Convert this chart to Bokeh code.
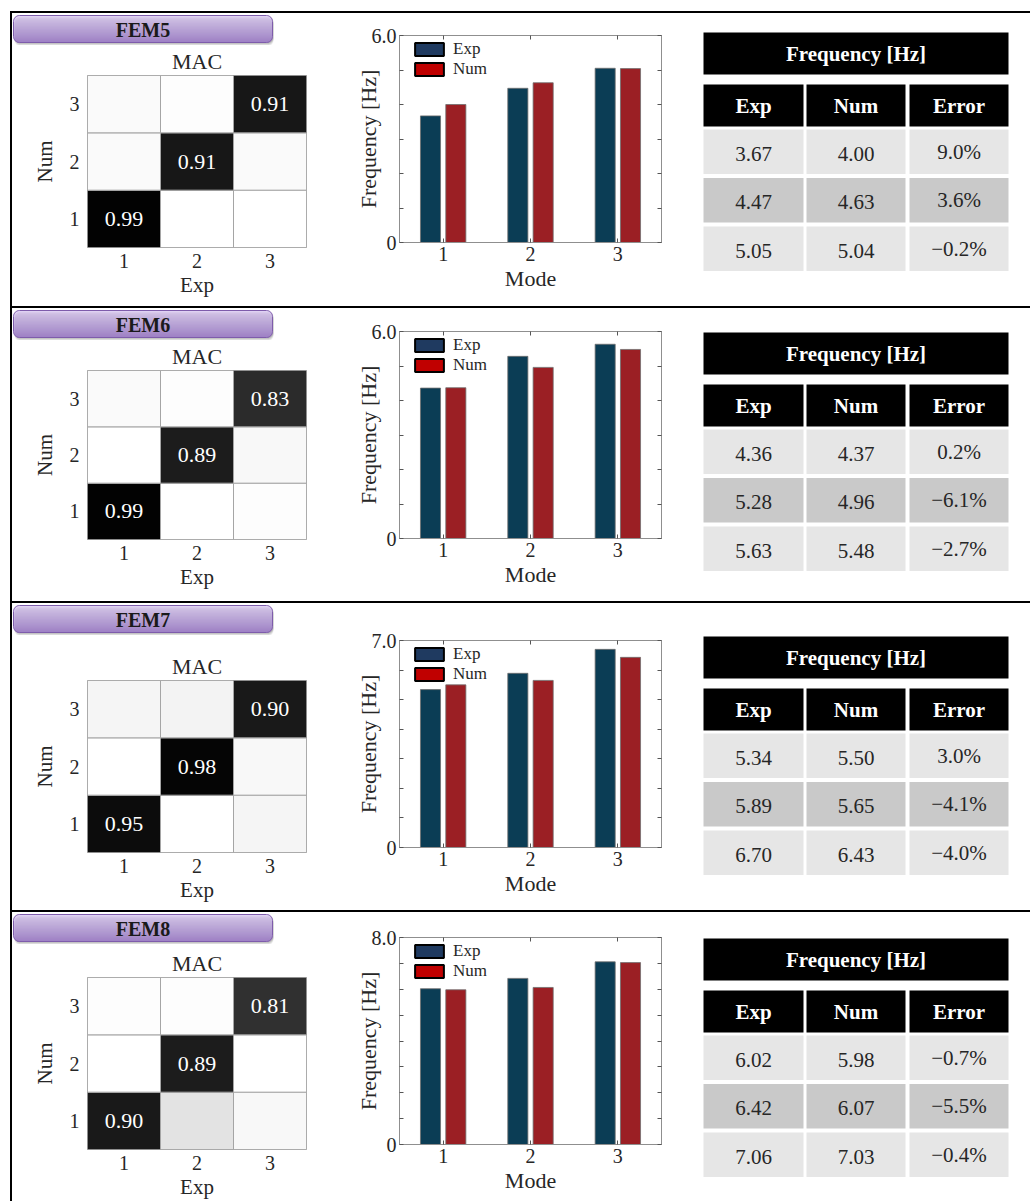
import math

from bokeh.core.properties import value
from bokeh.embed import file_html
from bokeh.layouts import column, row
from bokeh.models import (ColumnDataSource, FixedTicker, Legend, LegendItem,
                          LinearAxis, LinearColorMapper, Range1d, Spacer)
from bokeh.palettes import Greys256
from bokeh.plotting import figure
from bokeh.resources import INLINE
from bokeh.transform import dodge, transform

SERIF = "Liberation Serif"

# ---------------------------------------------------------------- data
models = ["FEM5", "FEM6", "FEM7", "FEM8"]
modes = [1, 2, 3]
mode_labels = ["1", "2", "3"]

exp_fem5 = [3.67, 4.47, 5.05]
num_fem5 = [4.00, 4.63, 5.04]
err_fem5 = [9.0, 3.6, -0.2]

exp_fem6 = [4.36, 5.28, 5.63]
num_fem6 = [4.37, 4.96, 5.48]
err_fem6 = [0.2, -6.1, -2.7]

exp_fem7 = [5.34, 5.89, 6.70]
num_fem7 = [5.50, 5.65, 6.43]
err_fem7 = [3.0, -4.1, -4.0]

exp_fem8 = [6.02, 6.42, 7.06]
num_fem8 = [5.98, 6.07, 7.03]
err_fem8 = [-0.7, -5.5, -0.4]

# MAC matrices: rows = numerical mode 1..3, columns = experimental mode 1..3
mac_fem5 = [[0.99, 0.00, 0.00],
            [0.02, 0.91, 0.02],
            [0.02, 0.01, 0.91]]
mac_fem6 = [[0.99, 0.00, 0.01],
            [0.00, 0.89, 0.03],
            [0.02, 0.01, 0.83]]
mac_fem7 = [[0.95, 0.00, 0.04],
            [0.00, 0.98, 0.03],
            [0.04, 0.05, 0.90]]
mac_fem8 = [[0.90, 0.11, 0.03],
            [0.00, 0.89, 0.00],
            [0.01, 0.01, 0.81]]

freq_max = [6, 6, 7, 8]

exp_all = [exp_fem5, exp_fem6, exp_fem7, exp_fem8]
num_all = [num_fem5, num_fem6, num_fem7, num_fem8]
err_all = [err_fem5, err_fem6, err_fem7, err_fem8]
mac_all = [mac_fem5, mac_fem6, mac_fem7, mac_fem8]

# ---------------------------------------------------------------- layout
PANEL_W = 1018
LEFT_W, BAR_W, TAB_W = 328, 350, 340
PILL_H = 32
panel_h = [293, 293, 307, 289]
mac_top = [62, 59, 77, 65]      # top of MAC matrix inside each panel
bar_top = [22, 23, 37, 25]      # top of bar plot frame inside each panel
tab_top = [19, 24, 33, 26]      # top of table header inside each panel
MAC_FRAME_H = 172
BAR_FRAME_H = 207

EXP_COLOR = "#0b3d55"
NUM_COLOR = "#9b1f24"
AXIS_GRAY = "#8f8f8f"
TEXT_DARK = "#262626"


def base_fig(w, h, **kw):
    return figure(width=w, height=h, output_backend="svg", toolbar_location=None,
                  background_fill_color="white", border_fill_color="white", **kw)


def boxed(fig):
    # own container, so frames of neighbouring figures are not lined up
    return column(fig, spacing=0)


def rounded_path(x0, x1, y0, y1, r, n=8):
    xs, ys = [], []
    corners = [(x1 - r, y0 + r, -90, 0), (x1 - r, y1 - r, 0, 90),
               (x0 + r, y1 - r, 90, 180), (x0 + r, y0 + r, 180, 270)]
    for cx, cy, a0, a1 in corners:
        for k in range(n + 1):
            a = math.radians(a0 + (a1 - a0) * k / n)
            xs.append(cx + r * math.cos(a))
            ys.append(cy + r * math.sin(a))
    return xs, ys


def mix(c0, c1, t):
    a = [int(c0[i:i + 2], 16) for i in (1, 3, 5)]
    b = [int(c1[i:i + 2], 16) for i in (1, 3, 5)]
    return "#%02x%02x%02x" % tuple(round(a[i] + (b[i] - a[i]) * t) for i in range(3))


def pill_panel(name):
    p = base_fig(LEFT_W, PILL_H, x_range=Range1d(0, LEFT_W), y_range=Range1d(PILL_H, 0),
                 min_border=0, x_axis_location=None, y_axis_location=None)
    p.grid.visible = False
    p.outline_line_color = None
    x0, x1, y0, y1, r = 1, 260, 2, 29, 6
    for k, a in [(4, 0.06), (3, 0.10), (2, 0.14), (1, 0.18)]:
        sx, sy = rounded_path(x0 + 1, x1 + 1, y0 + k, y1 + k, r)
        p.patch(sx, sy, fill_color="#555555", fill_alpha=a, line_color=None)
    lefts, rights, tops, bottoms, colors = [], [], [], [], []
    n = y1 - y0
    for i in range(n):
        yt = y0 + i
        yc = yt + 0.5
        d = min(yc - y0, y1 - yc)
        inset = r - math.sqrt(max(r * r - (r - d) ** 2, 0)) if d < r else 0
        lefts.append(x0 + inset)
        rights.append(x1 - inset)
        tops.append(yt)
        bottoms.append(yt + 1)
        colors.append(mix("#dccaf5", "#9670c9", i / (n - 1)))
    p.quad(left=lefts, right=rights, top=tops, bottom=bottoms, fill_color=colors, line_color=None)
    ox, oy = rounded_path(x0, x1, y0, y1, r)
    p.patch(ox, oy, fill_color=None, line_color="#7e5cab", line_width=1)
    p.text(x=[(x0 + x1) / 2], y=[(y0 + y1) / 2 + 0.5], text=[name], text_align="center",
           text_baseline="middle", text_font=value(SERIF), text_font_style="bold",
           text_font_size="20px", text_color="#1a1a1a")
    return p


def mac_panel(mat, height, top):
    bottom = height - top - MAC_FRAME_H
    p = base_fig(LEFT_W, height, x_range=Range1d(0.5, 3.5), y_range=Range1d(0.5, 3.5),
                 min_border_left=75, min_border_right=34, min_border_top=top,
                 min_border_bottom=bottom)
    p.grid.visible = False
    p.outline_line_color = "#9a9a9a"
    xs, ys, vals = [], [], []
    for i_num in range(3):
        for j_exp in range(3):
            xs.append(modes[j_exp])
            ys.append(modes[i_num])
            vals.append(mat[i_num][j_exp])
    mapper = LinearColorMapper(palette=list(reversed(Greys256)), low=0, high=1)
    src = ColumnDataSource(dict(x=xs, y=ys, v=vals))
    p.rect(x="x", y="y", width=1, height=1, source=src,
           fill_color=transform("v", mapper), line_color="#a5a5a5", line_width=1)
    diag = [mat[k][k] for k in range(3)]
    p.text(x=modes, y=modes, text=["%.2f" % v for v in diag], text_align="center",
           text_baseline="middle", text_font=value(SERIF), text_font_size="22px",
           text_color="white")
    p.title.text = "MAC"
    p.title.align = "center"
    p.title.text_font = SERIF
    p.title.text_font_style = "normal"
    p.title.text_font_size = "22px"
    p.title.text_color = TEXT_DARK
    p.title.standoff = 3
    for ax, lab in ((p.xaxis, "Exp"), (p.yaxis, "Num")):
        ax.ticker = FixedTicker(ticks=modes)
        ax.major_label_overrides = dict(zip(modes, mode_labels))
        ax.axis_label = lab
        ax.axis_line_color = None
        ax.major_tick_line_color = None
        ax.major_tick_in = 0
        ax.major_tick_out = 0
        ax.minor_tick_line_color = None
        ax.minor_tick_in = 0
        ax.minor_tick_out = 0
        ax.major_label_text_font = SERIF
        ax.major_label_text_font_size = "20px"
        ax.major_label_text_color = TEXT_DARK
        ax.axis_label_text_font = SERIF
        ax.axis_label_text_font_style = "normal"
        ax.axis_label_text_font_size = "21px"
        ax.axis_label_text_color = TEXT_DARK
    p.xaxis.major_label_standoff = 6
    p.xaxis.axis_label_standoff = 2
    p.yaxis.major_label_standoff = 8
    p.yaxis.axis_label_standoff = 10
    p.yaxis.major_label_orientation = "horizontal"
    return p


def bar_panel(exp, num, ymax, height, top):
    bottom = height - top - BAR_FRAME_H
    p = base_fig(BAR_W, height, x_range=Range1d(0.5, 3.5), y_range=Range1d(0, ymax),
                 min_border_left=59, min_border_right=29, min_border_top=top,
                 min_border_bottom=bottom)
    p.grid.visible = False
    p.outline_line_color = AXIS_GRAY
    src = ColumnDataSource(dict(mode=modes, exp=exp, num=num))
    p.vbar(x=dodge("mode", -0.145, range=p.x_range), top="exp", width=0.23, source=src,
           fill_color=EXP_COLOR, line_color="#6f6f6f", line_width=0.8)
    p.vbar(x=dodge("mode", 0.145, range=p.x_range), top="num", width=0.23, source=src,
           fill_color=NUM_COLOR, line_color="#6f6f6f", line_width=0.8)

    # legend swatches (renderers with no drawable bar)
    nan = float("nan")
    sw_exp = p.vbar(x=[nan], top=[nan], width=0.2, fill_color="#1f3a60",
                    line_color="black", line_width=2)
    sw_num = p.vbar(x=[nan], top=[nan], width=0.2, fill_color="#c00000",
                    line_color="black", line_width=2)
    legend = Legend(items=[LegendItem(label="Exp", renderers=[sw_exp]),
                           LegendItem(label="Num", renderers=[sw_num])],
                    location=(12, 163), padding=0, margin=0, spacing=0,
                    glyph_width=36, glyph_height=16, label_standoff=6,
                    label_text_font=SERIF, label_text_font_size="17px",
                    label_text_color=TEXT_DARK, border_line_color=None,
                    background_fill_alpha=0)
    p.add_layout(legend)

    yt = list(range(0, ymax + 1))
    ylab = {t: "" for t in yt}
    ylab[0] = "0"
    ylab[ymax] = "%.1f" % ymax
    p.yaxis.ticker = FixedTicker(ticks=yt)
    p.yaxis.major_label_overrides = ylab
    p.xaxis.ticker = FixedTicker(ticks=modes)
    p.xaxis.major_label_overrides = dict(zip(modes, mode_labels))
    p.xaxis.axis_label = "Mode"
    p.yaxis.axis_label = "Frequency [Hz]"
    for ax in (p.xaxis, p.yaxis):
        ax.axis_line_color = AXIS_GRAY
        ax.major_tick_line_color = "#555555"
        ax.major_tick_in = 4
        ax.major_tick_out = 0
        ax.minor_tick_line_color = None
        ax.minor_tick_out = 0
        ax.major_label_text_font = SERIF
        ax.major_label_text_font_size = "20px"
        ax.major_label_text_color = TEXT_DARK
        ax.axis_label_text_font = SERIF
        ax.axis_label_text_font_style = "normal"
        ax.axis_label_text_font_size = "22px"
        ax.axis_label_text_color = TEXT_DARK
    p.xaxis.major_label_standoff = 4
    p.xaxis.axis_label_standoff = 2
    p.yaxis.major_label_standoff = 3
    p.yaxis.axis_label_standoff = -12

    # mirrored tick marks on the right and top edges
    right = LinearAxis(ticker=FixedTicker(ticks=yt), major_label_overrides={t: "" for t in yt})
    top_ax = LinearAxis(ticker=FixedTicker(ticks=modes), major_label_overrides={m: "" for m in modes})
    for ax in (right, top_ax):
        ax.axis_line_color = AXIS_GRAY
        ax.major_tick_line_color = "#555555"
        ax.major_tick_in = 4
        ax.major_tick_out = 0
        ax.minor_tick_line_color = None
        ax.minor_tick_out = 0
        ax.major_label_text_font_size = "1px"
        ax.major_label_standoff = 0
    p.add_layout(right, "right")
    p.add_layout(top_ax, "above")
    return p


def fmt_err(e):
    s = "%.1f%%" % abs(e)
    return ("\u2212" + s) if e < 0 else s


def table_panel(exp, num, err, height, top):
    p = base_fig(TAB_W, height, x_range=Range1d(0, TAB_W), y_range=Range1d(height, 0),
                 min_border=0, x_axis_location=None, y_axis_location=None)
    p.grid.visible = False
    p.outline_line_color = None
    cols = [(13, 113), (116, 215), (219, 318)]
    # title bar and column headers
    p.quad(left=[13], right=[318], top=[top], bottom=[top + 42], fill_color="black", line_color=None)
    p.quad(left=[c[0] for c in cols], right=[c[1] for c in cols], top=[top + 52] * 3,
           bottom=[top + 94] * 3, fill_color="black", line_color=None)
    p.text(x=[165.5], y=[top + 21], text=["Frequency [Hz]"], text_align="center",
           text_baseline="middle", text_font=value(SERIF), text_font_style="bold",
           text_font_size="21px", text_color="white")
    cx = [(a + b) / 2 for a, b in cols]
    p.text(x=cx, y=[top + 73] * 3, text=["Exp", "Num", "Error"], text_align="center",
           text_baseline="middle", text_font=value(SERIF), text_font_style="bold",
           text_font_size="21px", text_color="white")
    row_fill = ["#e6e6e6", "#c9c9c9", "#e6e6e6"]
    for i in range(3):
        rt = top + 97 + 48.5 * i
        p.quad(left=[c[0] for c in cols], right=[c[1] for c in cols], top=[rt] * 3,
               bottom=[rt + 44.5] * 3, fill_color=row_fill[i], line_color=None)
        yc = rt + 22.25
        p.text(x=cx[:2], y=[yc + 2] * 2, text=["%.2f" % exp[i], "%.2f" % num[i]],
               text_align="center", text_baseline="middle", text_font=value(SERIF),
               text_font_size="21px", text_color=TEXT_DARK)
        p.text(x=[cx[2]], y=[yc], text=[fmt_err(err[i])], text_align="center",
               text_baseline="middle", text_font=value(SERIF), text_font_size="21px",
               text_color=TEXT_DARK)
    return p


def black(w, h):
    return Spacer(width=w, height=h, margin=0, styles={"background-color": "black"})


stack = [black(PANEL_W, 2)]
for k, name in enumerate(models):
    h = panel_h[k]
    left = column(boxed(pill_panel(name)),
                  boxed(mac_panel(mac_all[k], h - PILL_H, mac_top[k] - PILL_H)),
                  spacing=0)
    panel = row(left,
                boxed(bar_panel(exp_all[k], num_all[k], freq_max[k], h, bar_top[k])),
                boxed(table_panel(exp_all[k], num_all[k], err_all[k], h, tab_top[k])),
                spacing=0)
    stack.append(panel)
    if k < len(models) - 1:
        stack.append(black(PANEL_W, 2))

body = column(*stack, spacing=0)
total_h = 2 + sum(panel_h) + 2 * (len(models) - 1)
page = column(Spacer(width=1030, height=11, margin=0),
              row(Spacer(width=10, height=total_h, margin=0), black(2, total_h), body, spacing=0),
              spacing=0)

with open("out.html", "w") as f:
    f.write(file_html(page, INLINE, "Modal comparison"))
